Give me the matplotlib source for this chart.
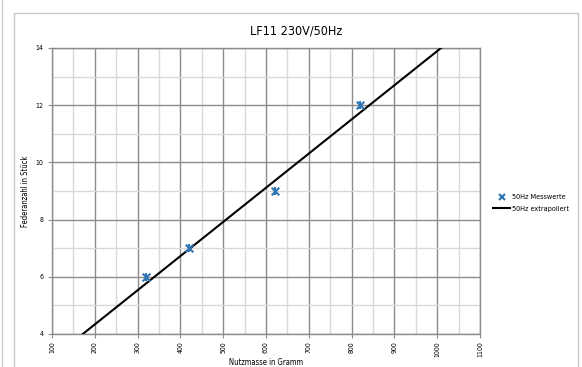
import matplotlib
matplotlib.use("Agg")
import matplotlib.pyplot as plt
from matplotlib.patches import Rectangle
from matplotlib.lines import Line2D
import numpy as np

plt.rcParams['font.family'] = ['Liberation Sans Narrow', 'DejaVu Sans']
plt.rcParams['font.stretch'] = 'condensed'

title = "LF11 230V/50Hz"
x_label = "Nutzmasse in Gramm"
y_label = "Federanzahl in Stück"
meas_x = [320, 420, 620, 820]
meas_y = [6, 7, 9, 12]
line_x = [172, 1009]
line_y = [4, 14]
x_ticks = [100, 200, 300, 400, 500, 600, 700, 800, 900, 1000, 1100]
y_ticks = [4, 6, 8, 10, 12, 14]
legend_labels = ["50Hz Messwerte", "50Hz extrapoliert"]

W, H = 582, 367
fig = plt.figure(figsize=(W / 100, H / 100), dpi=100)
fig.patches.append(Rectangle((14 / W, -0.01), (578 - 14) / W, 1 - 13 / H + 0.01,
                             transform=fig.transFigure, fill=False,
                             edgecolor='#c8c8c8', linewidth=1.0))
fig.lines.append(Line2D([1.5 / W, 1.5 / W], [0, 1], transform=fig.transFigure,
                        color='#d0d0d0', linewidth=1.0))

ax = fig.add_axes([52 / W, 1 - 334 / H, (480 - 52) / W, (334 - 48) / H])
ax.set_xlim(100, 1100)
ax.set_ylim(4, 14)
ax.set_xticks(x_ticks)
ax.set_yticks(y_ticks)
ax.set_xticks(np.arange(150, 1100, 100), minor=True)
ax.set_yticks(np.arange(5, 14, 2), minor=True)
ax.grid(which='major', color='#8c8c8c', linewidth=1.0)
ax.grid(which='minor', color='#d9d9d9', linewidth=1.0)
ax.tick_params(which='minor', length=0)
ax.tick_params(which='major', length=3, width=0.8, color='#8c8c8c', labelsize=5)
ax.tick_params(axis='x', pad=2, labelrotation=90)
ax.tick_params(axis='y', pad=3)
for lab in ax.get_xticklabels():
    lab.set_rotation(90)
ax.set_axisbelow(True)
for s in ax.spines.values():
    s.set_color('#8c8c8c')
    s.set_linewidth(1.0)

ax.plot(line_x, line_y, color='black', linewidth=1.5, zorder=3)
ax.scatter(meas_x, meas_y, marker='x', s=30, color='#2E75B6', linewidths=1.5, zorder=4)
ax.scatter(meas_x, meas_y, marker='|', s=30, color='#2E75B6', linewidths=1.5, zorder=4)

fig.text(296 / W, 1 - 31 / H, title, fontsize=9, ha='center', va='center')
ax.set_xlabel(x_label, fontsize=5.5, labelpad=1)
ax.set_ylabel(y_label, fontsize=5.5, labelpad=4)

h1 = Line2D([], [], linestyle='none', marker='x', color='#2E75B6', markersize=4.5, markeredgewidth=1.5)
h2 = Line2D([], [], color='black', linewidth=1.5)
fig.legend([h1, h2], legend_labels, loc='upper left',
           bbox_to_anchor=(493 / W, 1 - 194 / H), frameon=False, fontsize=5.2,
           borderpad=0, borderaxespad=0,
           handlelength=2.4, handletextpad=0.3, labelspacing=0.75)

fig.savefig("out.png", dpi=100)
